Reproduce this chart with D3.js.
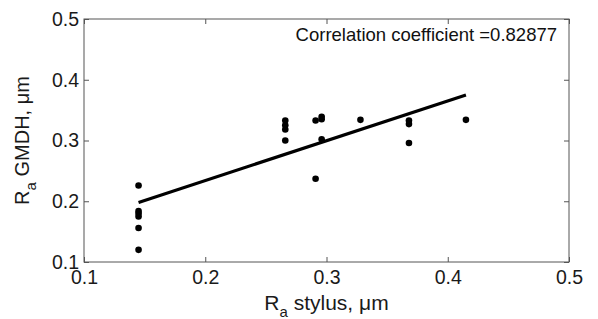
<!DOCTYPE html>
<html>
<head>
<meta charset="utf-8">
<script src="https://cdn.jsdelivr.net/npm/d3@7"></script>
<style>
  body { margin: 0; background: #fff; }
  text { font-family: "Liberation Sans", Arial, sans-serif; }
</style>
</head>
<body>
<svg width="598" height="319"></svg>
<script>
// measured values, R_a stylus vs R_a GMDH
const stylus = [0.145, 0.145, 0.145, 0.145, 0.145, 0.145,
                0.266, 0.266, 0.266, 0.266,
                0.291, 0.291,
                0.296, 0.296, 0.296,
                0.328,
                0.368, 0.368, 0.368,
                0.415];
const gmdh = [0.226, 0.184, 0.180, 0.175, 0.156, 0.120,
              0.333, 0.325, 0.318, 0.300,
              0.333, 0.237,
              0.339, 0.335, 0.302,
              0.334,
              0.333, 0.327, 0.296,
              0.334];
// fitted line, end points
const fitX = [0.145, 0.415];
const fitY = [0.198, 0.375];
const ticks = [0.1, 0.2, 0.3, 0.4, 0.5];
const corr = "0.82877";

const svg = d3.select('svg');
const pl = 84, pr = 569, pt = 19, pb = 262;
const axisColor = '#555';

const x = d3.scaleLinear().domain([0.1, 0.5]).range([pl, pr]);
const y = d3.scaleLinear().domain([0.1, 0.5]).range([pb, pt]);

// box with inward ticks on all four sides
svg.append('rect')
  .attr('x', pl).attr('y', pt)
  .attr('width', pr - pl).attr('height', pb - pt)
  .attr('fill', 'none').attr('stroke', axisColor);

svg.append('g').attr('transform', `translate(0,${pb})`)
  .call(d3.axisBottom(x).tickValues(ticks).tickSizeInner(-5).tickSizeOuter(0)
    .tickPadding(8).tickFormat(d3.format('.1f')));
svg.append('g').attr('transform', `translate(0,${pt})`)
  .call(d3.axisTop(x).tickValues(ticks).tickSizeInner(-5).tickSizeOuter(0).tickFormat(''));
svg.append('g').attr('transform', `translate(${pl},0)`)
  .call(d3.axisLeft(y).tickValues(ticks).tickSizeInner(-5).tickSizeOuter(0)
    .tickPadding(5).tickFormat(d3.format('.1f')));
svg.append('g').attr('transform', `translate(${pr},0)`)
  .call(d3.axisRight(y).tickValues(ticks).tickSizeInner(-5).tickSizeOuter(0).tickFormat(''));

svg.selectAll('.domain').remove();
svg.selectAll('.tick line').attr('stroke', axisColor);
svg.selectAll('.tick text')
  .attr('font-size', 19.5).attr('fill', '#1a1a1a')
  .style('font-family', '"Liberation Sans", Arial, sans-serif');

// points
svg.append('g').selectAll('circle')
  .data(stylus.map((s, i) => [s, gmdh[i]]))
  .enter().append('circle')
  .attr('cx', d => x(d[0]))
  .attr('cy', d => y(d[1]))
  .attr('r', 3.3)
  .attr('fill', '#000');

// fit line
svg.append('line')
  .attr('x1', x(fitX[0])).attr('y1', y(fitY[0]))
  .attr('x2', x(fitX[1])).attr('y2', y(fitY[1]))
  .attr('stroke', '#000').attr('stroke-width', 3.2);

// annotation
svg.append('text')
  .attr('x', 557).attr('y', 41)
  .attr('text-anchor', 'end')
  .attr('font-size', 18.5).attr('fill', '#111')
  .text('Correlation coefficient =' + corr);

// axis titles
const xl = svg.append('text')
  .attr('x', (pl + pr) / 2).attr('y', 310)
  .attr('text-anchor', 'middle').attr('font-size', 21).attr('fill', '#1a1a1a');
xl.append('tspan').text('R');
xl.append('tspan').attr('font-size', 15).attr('dy', 7).text('a');
xl.append('tspan').attr('dy', -7).text(' stylus, μm');

const ylab = svg.append('text')
  .attr('transform', `translate(29,${(pt + pb) / 2}) rotate(-90)`)
  .attr('text-anchor', 'middle').attr('font-size', 20).attr('fill', '#1a1a1a');
ylab.append('tspan').text('R');
ylab.append('tspan').attr('font-size', 15).attr('dy', 7).text('a');
ylab.append('tspan').attr('dy', -7).text(' GMDH, μm');
</script>
</body>
</html>
